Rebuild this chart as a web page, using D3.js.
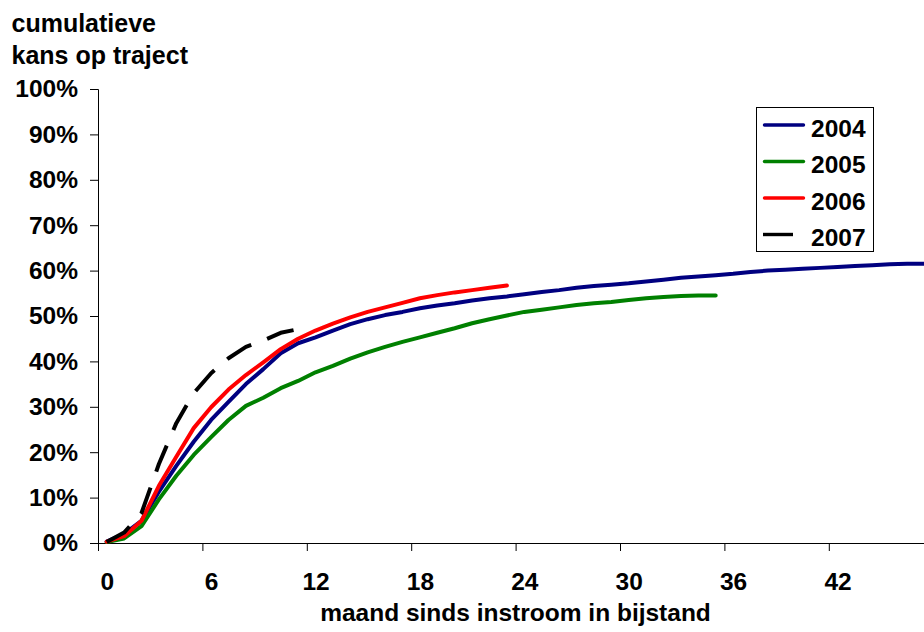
<!DOCTYPE html>
<html><head><meta charset="utf-8">
<script src="https://cdn.jsdelivr.net/npm/d3@7"></script>
<style>
html,body{margin:0;padding:0;background:#fff;}
svg{display:block;font-family:"Liberation Sans",Arial,sans-serif;font-weight:bold;}
</style></head><body>
<svg id="chart" width="924" height="632"></svg>
<script>
// ---- data (cumulative %, by month since inflow) ----
const seriesNames = ["2004", "2005", "2006", "2007"];
const s2004 = [0.3, 2.0, 4.9, 11.3, 17.0, 22.3, 27.1, 31.1, 35.0, 38.3, 41.8, 44.0, 45.3, 46.8, 48.2, 49.3,
  50.2, 50.9, 51.7, 52.3, 52.8, 53.4, 53.9, 54.3, 54.8, 55.3, 55.7, 56.2, 56.6, 56.9, 57.2, 57.6,
  58.0, 58.4, 58.7, 59.0, 59.3, 59.7, 60.0, 60.2, 60.4, 60.6, 60.8, 61.0, 61.2, 61.4, 61.5, 61.5];
const s2005 = [0.2, 1.0, 3.7, 9.6, 14.8, 19.4, 23.3, 27.1, 30.2, 32.0, 34.1, 35.7, 37.6, 39.0, 40.6, 42.0,
  43.2, 44.3, 45.3, 46.3, 47.3, 48.4, 49.3, 50.1, 50.9, 51.4, 51.9, 52.4, 52.8, 53.1, 53.5, 53.9,
  54.2, 54.4, 54.5, 54.5];
const s2006 = [0.3, 1.5, 4.9, 12.6, 19.0, 25.3, 29.9, 33.8, 37.0, 39.8, 42.7, 45.0, 46.8, 48.3, 49.7, 50.9,
  51.9, 52.9, 53.9, 54.6, 55.2, 55.7, 56.2, 56.7];
const s2007 = [0.2, 2.3, 6.6, 17.4, 26.4, 33.0, 37.4, 40.7, 43.2, 44.6, 46.3, 47.1];
const xTickLabels = [0, 6, 12, 18, 24, 30, 36, 42];
const yTicks = [0, 0.1, 0.2, 0.3, 0.4, 0.5, 0.6, 0.7, 0.8, 0.9, 1.0];
const titleLines = ["cumulatieve", "kans op traject"];
const xTitle = "maand sinds instroom in bijstand";

// ---- styles ----
const colors = ["#000080", "#008000", "#FF0000", "#000000"];
const dashes = [null, null, null, "28,17"];
const FS = 24.5;

const svg = d3.select("#chart");
const x = d3.scaleLinear().domain([-0.5, 47.5]).range([98, 933.2]);
const y = d3.scaleLinear().domain([0, 1]).range([543, 89]);

// title
svg.append("g").selectAll("text").data(titleLines).join("text")
  .attr("x", 11.5).attr("y", (d, i) => 32 + i * 31.5)
  .attr("font-size", 25).attr("fill", "#000").text(d => d);

// y axis
const ya = svg.append("g").attr("transform", "translate(98,0)")
  .call(d3.axisLeft(y).tickValues(yTicks).tickFormat(d3.format(".0%")).tickSize(8).tickPadding(12));
ya.attr("font-family", null).attr("font-size", FS);
ya.selectAll("text").attr("fill", "#000").attr("font-weight", "bold");
ya.selectAll("line,path").attr("stroke", "#000");

// x axis: tick marks at category boundaries
const xb = svg.append("g").attr("transform", "translate(0,543)")
  .call(d3.axisBottom(x).tickValues(xTickLabels.map(d => d - 0.5)).tickSize(8).tickFormat(""));
xb.selectAll("line,path").attr("stroke", "#000");
xb.select("path").attr("d", `M${x(-0.5) + 0.5},0.5H${x(47.5)}`);
// x axis labels at category centres
const xl = svg.append("g").attr("transform", "translate(0,543)")
  .call(d3.axisBottom(x).tickValues(xTickLabels).tickSize(0).tickPadding(30));
xl.select("path").remove();
xl.attr("font-family", null).attr("font-size", FS);
xl.selectAll("text").attr("fill", "#000").attr("font-weight", "bold");

// x title
svg.append("text").attr("x", 515.5).attr("y", 621).attr("text-anchor", "middle")
  .attr("font-size", FS).attr("fill", "#000").text(xTitle);

// lines
const line = d3.line().x((d, i) => x(i)).y(d => y(d / 100));
const allSeries = [s2004, s2005, s2006, s2007];
svg.append("g").selectAll("path").data(allSeries).join("path")
  .attr("d", d => line(d))
  .attr("fill", "none")
  .attr("stroke", (d, i) => colors[i])
  .attr("stroke-width", 4)
  .attr("stroke-linejoin", "round")
  .attr("stroke-linecap", (d, i) => dashes[i] ? "butt" : "round")
  .attr("stroke-dasharray", (d, i) => dashes[i]);

// legend
const lg = svg.append("g");
lg.append("rect").attr("x", 756.5).attr("y", 107.5).attr("width", 117).attr("height", 144)
  .attr("fill", "#fff").attr("stroke", "#000").attr("stroke-width", 1);
const rows = lg.selectAll("g.row").data(seriesNames).join("g").attr("class", "row")
  .attr("transform", (d, i) => `translate(0,${125 + i * 36.5})`);
rows.append("line")
  .attr("x1", (d, i) => dashes[i] ? 763 : 764.5)
  .attr("x2", (d, i) => dashes[i] ? 793 : 803.5)
  .attr("y1", 0).attr("y2", 0)
  .attr("stroke", (d, i) => colors[i]).attr("stroke-width", 3.4)
  .attr("stroke-linecap", (d, i) => dashes[i] ? "butt" : "round");
rows.append("text").attr("x", 811).attr("y", 11.6)
  .attr("font-size", FS).attr("fill", "#000").text(d => d);
</script>
</body></html>
